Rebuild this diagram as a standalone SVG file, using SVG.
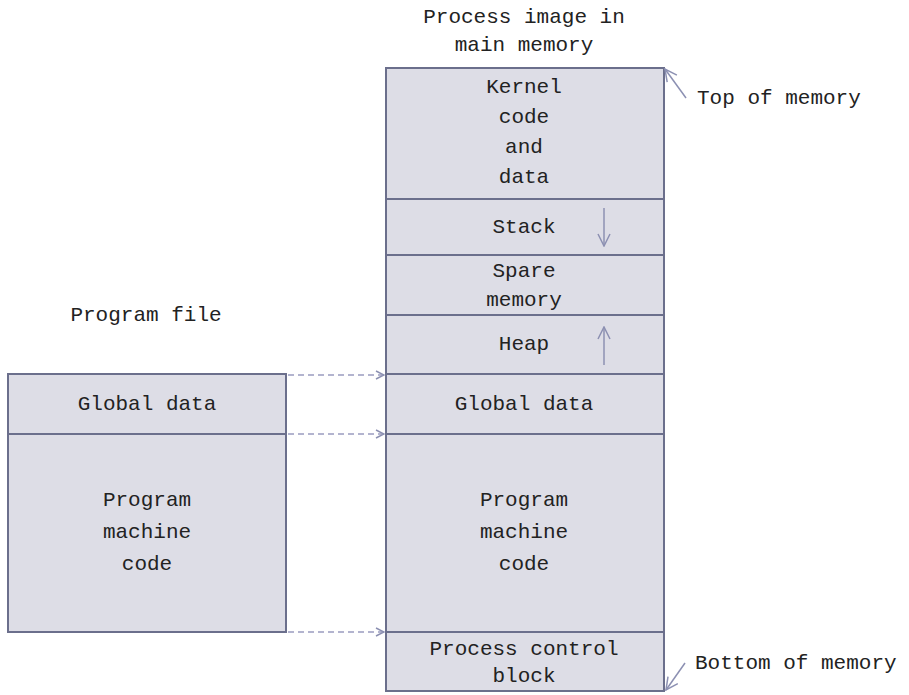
<svg xmlns="http://www.w3.org/2000/svg" width="909" height="695" viewBox="0 0 909 695">
<defs>
<style>
.box{fill:#dddde6;stroke:#6b6f8c;stroke-width:2}
.t{font-family:"Liberation Mono","Courier New",monospace;font-size:21px;fill:#222;text-anchor:middle}
.tl{font-family:"Liberation Mono","Courier New",monospace;font-size:21px;fill:#222}
.dash{fill:none;stroke:#9a9cc0;stroke-width:1.5;stroke-dasharray:6,4}
.arr{fill:none;stroke:#8c90b2;stroke-width:1.5}
</style>
<marker id="open" viewBox="0 0 10 10" refX="9" refY="5" markerWidth="10" markerHeight="10" markerUnits="userSpaceOnUse" orient="auto">
<path d="M1,1 L9,5 L1,9" fill="none" stroke="#8c90b2" stroke-width="1.5"/>
</marker>
<marker id="open2" viewBox="0 0 14 14" refX="13" refY="7" markerWidth="14" markerHeight="14" markerUnits="userSpaceOnUse" orient="auto">
<path d="M1,1 L13,7 L1,13" fill="none" stroke="#8c90b2" stroke-width="1.5"/>
</marker>
</defs>
<text class="t" x="524" y="23">Process image in</text>
<text class="t" x="524" y="51">main memory</text>
<text class="t" x="146" y="321">Program file</text>
<g id="kernel"><rect class="box" x="386" y="68" width="278" height="131"/>
<text class="t" x="524" y="93">Kernel</text><text class="t" x="524" y="123">code</text><text class="t" x="524" y="153">and</text><text class="t" x="524" y="183">data</text></g>
<g id="stack"><rect class="box" x="386" y="199" width="278" height="56"/>
<text class="t" x="524" y="233">Stack</text></g>
<g id="spare"><rect class="box" x="386" y="255" width="278" height="60"/>
<text class="t" x="524" y="277">Spare</text><text class="t" x="524" y="306">memory</text></g>
<g id="heap"><rect class="box" x="386" y="315" width="278" height="59"/>
<text class="t" x="524" y="350">Heap</text></g>
<g id="global-mem"><rect class="box" x="386" y="374" width="278" height="60"/>
<text class="t" x="524" y="410">Global data</text></g>
<g id="code-mem"><rect class="box" x="386" y="434" width="278" height="198"/>
<text class="t" x="524" y="506">Program</text><text class="t" x="524" y="538">machine</text><text class="t" x="524" y="570">code</text></g>
<g id="pcb"><rect class="box" x="386" y="632" width="278" height="59"/>
<text class="t" x="524" y="655">Process control</text><text class="t" x="524" y="682">block</text></g>
<g id="global-file"><rect class="box" x="8" y="374" width="278" height="60"/>
<text class="t" x="147" y="410">Global data</text></g>
<g id="code-file"><rect class="box" x="8" y="434" width="278" height="198"/>
<text class="t" x="147" y="506">Program</text><text class="t" x="147" y="538">machine</text><text class="t" x="147" y="570">code</text></g>
<g id="labels">
<text class="tl" x="697" y="104">Top of memory</text>
<text class="tl" x="695" y="669">Bottom of memory</text>
</g>
<g id="connectors">
<line class="dash" x1="288" y1="375" x2="384" y2="375" marker-end="url(#open)"/>
<line class="dash" x1="288" y1="434" x2="384" y2="434" marker-end="url(#open)"/>
<line class="dash" x1="288" y1="632" x2="384" y2="632" marker-end="url(#open)"/>
<line class="arr" x1="604" y1="208" x2="604" y2="246" marker-end="url(#open2)"/>
<line class="arr" x1="604" y1="365" x2="604" y2="327" marker-end="url(#open2)"/>
<line class="arr" x1="686" y1="98" x2="665" y2="69" marker-end="url(#open2)"/>
<line class="arr" x1="685" y1="663" x2="666" y2="690" marker-end="url(#open2)"/>
</g>
</svg>
